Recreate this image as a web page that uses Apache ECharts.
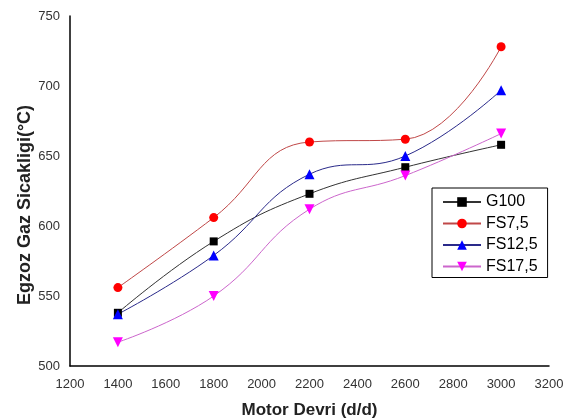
<!DOCTYPE html>
<html>
<head>
<meta charset="utf-8">
<script src="https://cdn.jsdelivr.net/npm/echarts@6/dist/echarts.min.js"></script>
<style>html,body{margin:0;padding:0;background:#fff}#c{width:565px;height:419px}</style>
</head>
<body>
<div id="c"></div>
<script>
var speeds = [1400, 1800, 2200, 2600, 3000];
var g100 = [538, 589, 623, 642, 658];
var fs75 = [556, 606, 660, 662, 728];
var fs125 = [537, 579, 637, 650, 697];
var fs175 = [517, 550, 612, 636, 666];
var seriesNames = ['G100', 'FS7,5', 'FS12,5', 'FS17,5'];

function pairs(vals){ return speeds.map(function(x,i){ return [x, vals[i]]; }); }

var chart = echarts.init(document.getElementById('c'));
var font = 'Liberation Sans, Arial, sans-serif';
function mk(name, vals, marker, mcolor, lcolor, size, rot){
  return {
    name: name, type: 'line', data: pairs(vals), smooth: 0.45,
    symbol: marker, symbolSize: size, symbolRotate: rot || 0,
    itemStyle: {color: mcolor},
    lineStyle: {color: lcolor, width: 1},
    z: 3
  };
}
chart.setOption({
  animation: false,
  backgroundColor: '#fff',
  grid: {left: 70, top: 16, right: 16, bottom: 53, containLabel: false, outerBoundsMode: 'none'},
  legend: {
    orient: 'vertical', left: 432, top: 188,
    data: seriesNames,
    backgroundColor: '#fff', borderColor: '#000', borderWidth: 1,
    padding: [6, 10, 3, 10], itemGap: 5.5, itemWidth: 38, itemHeight: 12,
    textStyle: {fontFamily: font, fontSize: 16, color: '#000', lineHeight: 16}
  },
  xAxis: {
    type: 'value', min: 1200, max: 3200, interval: 200,
    name: 'Motor Devri (d/d)', nameLocation: 'middle', nameGap: 36, nameMoveOverlap: false,
    nameTextStyle: {fontFamily: font, fontSize: 17, fontWeight: 'bold', color: '#222'},
    axisLine: {lineStyle: {color: '#000', width: 1.5}},
    axisTick: {show: false},
    splitLine: {show: false},
    axisLabel: {fontFamily: font, fontSize: 13, color: '#333', margin: 12, formatter: function(v){ return String(v); }}
  },
  yAxis: {
    type: 'value', min: 500, max: 750, interval: 50,
    name: 'Egzoz Gaz Sicakligi(°C)', nameLocation: 'middle', nameGap: 36, nameMoveOverlap: false,
    nameTextStyle: {fontFamily: font, fontSize: 18, fontWeight: 'bold', color: '#222', padding: [0, 28, 0, 0]},
    axisLine: {show: true, lineStyle: {color: '#000', width: 1.5}},
    axisTick: {show: false},
    splitLine: {show: false},
    axisLabel: {fontFamily: font, fontSize: 13, color: '#333', margin: 10, formatter: function(v){ return String(v); }}
  },
  series: [
    mk('G100', g100, 'rect', '#000', '#333', 8),
    mk('FS7,5', fs75, 'circle', '#ff0000', '#c04848', 9),
    mk('FS12,5', fs125, 'triangle', '#0000ff', '#2a2a8a', 10),
    mk('FS17,5', fs175, 'triangle', '#ff00ff', '#cc66cc', 10, 180)
  ]
});
</script>
</body>
</html>
